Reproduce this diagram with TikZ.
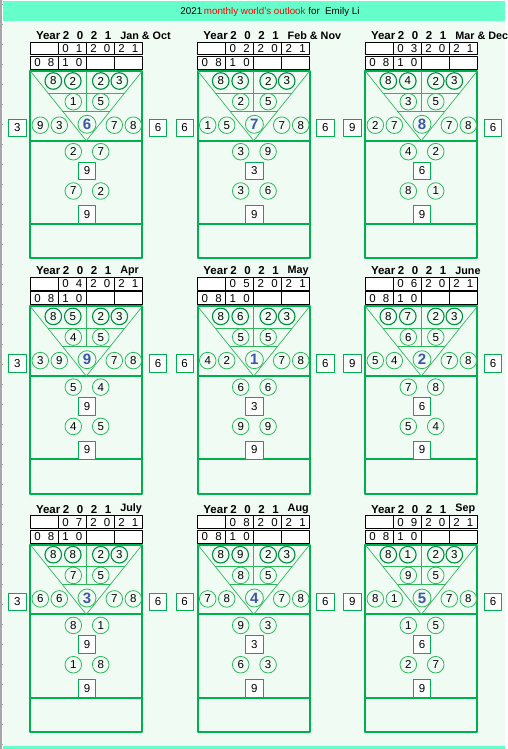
\documentclass[tikz,border=0pt]{standalone}
\usepackage{fontspec}
\setmainfont{Liberation Sans}
\definecolor{aqua}{HTML}{66FFCC}
\definecolor{mint}{HTML}{F0FBF3}
\definecolor{xlgreen}{HTML}{00B050}
\definecolor{ringgreen}{HTML}{2EB85C}
\definecolor{numblue}{HTML}{3A56A8}
\newcommand{\pair}[2]{\hbox to 28pt{\hskip4pt#1\hfill#2\hskip4pt}}

\begin{document}
\begin{tikzpicture}[x=1pt,y=-1pt,line join=round,font=\fontsize{11.5}{13}\selectfont,
	num/.style={circle,draw=ringgreen,line width=0.8pt,minimum size=16.6pt,inner sep=0pt},
	numd/.style={num,draw=xlgreen!80!black,line width=1.1pt},
	bignum/.style={num,minimum size=18pt,text=numblue,font=\fontsize{15}{16}\selectfont\bfseries},
	sqbox/.style={draw=xlgreen,fill=white,line width=0.8pt,minimum width=17.4pt,minimum height=17.4pt,inner sep=0pt},
	cell/.style={draw=black,fill=white,line width=0.8pt,minimum width=28pt,minimum height=12.8pt,inner sep=0pt},
	head/.style={font=\fontsize{11.5}{13}\selectfont\bfseries},
	frm/.style={draw=xlgreen,line width=2pt},
	tri/.style={draw=ringgreen,line width=0.7pt}]
	\useasboundingbox (0,0) rectangle (508,749);
	\fill[white] (0,0) rectangle (508,749);
	\fill[mint] (3,21) rectangle (505,746);
	\fill[aqua] (3,1) rectangle (505,21);
	\fill[aqua] (3,746) rectangle (505,749);
	\draw[gray!70,line width=2pt] (1,0)--(1,749);
	\foreach \t in {4,24,...,744} \draw[gray!70] (0,\t)--(3,\t);
	\node[font=\fontsize{9.8}{11}\selectfont] (title) at (270,11.5) {2021\,\textcolor{red}{monthly world's outlook} for\ \ Emily Li};
	\foreach \mx/\my/\mon/\mn/\ub/\va/\wa/\wb/\cen/\sl/\la/\lb/\ms/\lc/\ld [count=\k] in {
		30.3/71/Jan \& Oct/1/2/1/9/3/6/3/2/7/9/7/2,
		197.7/71/Feb \& Nov/2/3/2/1/5/7/6/3/9/3/3/6,
		365.3/71/Mar \& Dec/3/4/3/2/7/8/9/4/2/6/8/1,
		30.3/306.4/Apr/4/5/4/3/9/9/3/5/4/9/4/5,
		197.7/306.4/May/5/6/5/4/2/1/6/6/6/3/9/9,
		365.3/306.4/June/6/7/6/5/4/2/9/7/8/6/5/4,
		30.3/544.7/July/7/8/7/6/6/3/3/8/1/9/1/8,
		197.7/544.7/Aug/8/9/8/7/8/4/6/9/3/3/6/3,
		365.3/544.7/Sep/9/1/9/8/1/5/9/1/5/6/2/7}
	{
	\begin{scope}[shift={(\mx,\my)}]
		\node[head,anchor=west] (yr\k) at (2.2,-35.5) {Year};
		\node[head] (dg\k) at (56.8,-35.5) {2\hskip7.6pt0\hskip7.6pt2\hskip7.6pt1};
		\node[head,anchor=west,font=\fontsize{10.8}{13}\selectfont\bfseries] (mo\k) at (86.5,-35.5) {\mon};
		\node[cell] (ta\k) at (14,-22.6) {};
		\node[cell] (tb\k) at (42,-22.6) {\pair0\mn};
		\node[cell] (tc\k) at (70,-22.6) {\pair20};
		\node[cell] (td\k) at (98,-22.6) {\pair21};
		\node[cell] (te\k) at (14,-8.2) {\pair08};
		\node[cell] (tf\k) at (42,-8.2) {\pair10};
		\node[cell] (tg\k) at (70,-8.2) {};
		\node[cell] (th\k) at (98,-8.2) {};
		\draw[frm] (0,0) rectangle (112,187.3);
		\draw[frm] (0,69.7)--(112,69.7) (0,153)--(112,153);
		\draw[tri] (0,0)--(56,69.7)--(112,0);
		\draw[tri] (17.7,22)--(94.3,22) (32.1,40)--(79.9,40) (56,0)--(56,40);
		\node[numd] (p\k-1) at (23,10) {8};
		\node[numd] (p\k-2) at (42.5,10) {\ub};
		\node[numd] (p\k-3) at (70.5,10) {2};
		\node[numd] (p\k-4) at (89,10) {3};
		\node[num] (q\k-1) at (43,30.7) {\va};
		\node[num] (q\k-2) at (70.5,30.7) {5};
		\node[num] (r\k-1) at (10,54.2) {\wa};
		\node[num] (r\k-2) at (29,54.2) {\wb};
		\node[bignum] (c\k) at (56.7,53.3) {\cen};
		\node[num] (r\k-3) at (84,54.2) {7};
		\node[num] (r\k-4) at (103,54.2) {8};
		\node[sqbox] (sl\k) at (-13.1,57) {\sl};
		\node[sqbox] (sr\k) at (127.7,57) {6};
		\node[num] (u\k-1) at (43,80.7) {\la};
		\node[num] (u\k-2) at (70.4,80.7) {\lb};
		\node[sqbox] (m\k-1) at (56.7,99.8) {\ms};
		\node[num] (u\k-3) at (43,120) {\lc};
		\node[num] (u\k-4) at (70.4,120) {\ld};
		\node[sqbox,minimum height=18pt] (m\k-2) at (56.7,143.5) {9};
	\end{scope}
	}
\end{tikzpicture}
\end{document}
